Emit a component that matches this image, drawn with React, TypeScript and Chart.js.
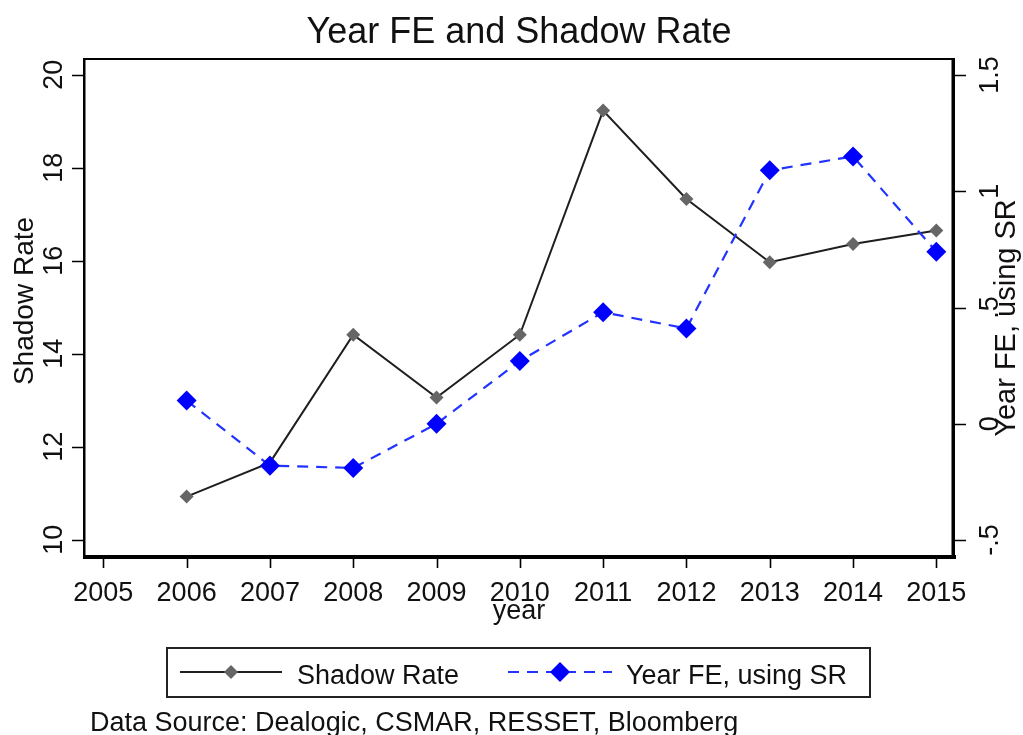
import React, { useEffect, useRef } from "react";
import { Chart, registerables } from "chart.js";

Chart.register(...registerables);

// ---- data ----
const years = [2006, 2007, 2008, 2009, 2010, 2011, 2012, 2013, 2014, 2015];
const shadowRate = [10.93, 11.66, 14.41, 13.06, 14.41, 19.23, 17.33, 15.97, 16.36, 16.65];
const yearFE = [0.1, -0.18, -0.19, 0.0, 0.27, 0.48, 0.41, 1.09, 1.15, 0.74];

const xTicks = [2005, 2006, 2007, 2008, 2009, 2010, 2011, 2012, 2013, 2014, 2015];
const leftTicks = [10, 12, 14, 16, 18, 20];
const leftTickLabels = ["10", "12", "14", "16", "18", "20"];
const rightTicks = [-0.5, 0, 0.5, 1, 1.5];
const rightTickLabels = ["-.5", "0", ".5", "1", "1.5"];

const titleText = "Year FE and Shadow Rate";
const leftTitle = "Shadow Rate";
const rightTitle = "Year FE, using SR";
const xTitle = "year";
const legendLabels = ["Shadow Rate", "Year FE, using SR"];
const noteText = "Data Source: Dealogic, CSMAR, RESSET, Bloomberg";

const FONT = '"Liberation Sans", Arial, "DejaVu Sans", sans-serif';
const TEXT = "#111111";
const SR_LINE = "#1e1e1e";
const SR_MARK = "#666666";
const FE_LINE = "#2233ff";
const FE_MARK = "#0000ff";

const decorPlugin = {
  id: "stataDecor",
  afterDraw(chart: any) {
    const ctx: CanvasRenderingContext2D = chart.ctx;
    const { left, right, top, bottom } = chart.chartArea;
    const xs = chart.scales.x;
    const ys = chart.scales.y;
    const ys1 = chart.scales.y1;
    ctx.save();

    // frame
    ctx.fillStyle = "#000";
    ctx.fillRect(left - 2, top - 1, right - left + 2, 2);
    ctx.fillRect(left - 2, top - 1, 2.5, bottom - top + 1);
    ctx.fillRect(right - 1.5, top - 1, 3.5, bottom - top + 3);
    ctx.fillRect(left - 2, bottom - 2, right - left + 5, 4);

    // tick marks
    ctx.strokeStyle = "#000";
    ctx.lineWidth = 1.6;
    ctx.beginPath();
    for (const v of leftTicks) {
      const y = Math.round(ys.getPixelForValue(v)) + 0.5;
      ctx.moveTo(left - 13, y);
      ctx.lineTo(left - 2, y);
    }
    for (const v of rightTicks) {
      const y = Math.round(ys1.getPixelForValue(v)) + 0.5;
      ctx.moveTo(right + 2, y);
      ctx.lineTo(right + 13, y);
    }
    for (const v of xTicks) {
      const x = Math.round(xs.getPixelForValue(v)) + 0.5;
      ctx.moveTo(x, bottom + 2);
      ctx.lineTo(x, bottom + 11);
    }
    ctx.stroke();

    ctx.fillStyle = TEXT;

    // x tick labels
    ctx.font = `27px ${FONT}`;
    ctx.textAlign = "center";
    ctx.textBaseline = "alphabetic";
    xTicks.forEach((v) => {
      ctx.fillText(String(v), xs.getPixelForValue(v), 601);
    });
    // x title
    ctx.fillText(xTitle, (left + right) / 2, 619);

    // left tick labels (rotated)
    leftTicks.forEach((v, i) => {
      ctx.save();
      ctx.translate(62, ys.getPixelForValue(v));
      ctx.rotate(-Math.PI / 2);
      ctx.fillText(leftTickLabels[i], 0, 0);
      ctx.restore();
    });
    // right tick labels (rotated)
    rightTicks.forEach((v, i) => {
      ctx.save();
      ctx.translate(998, ys1.getPixelForValue(v));
      ctx.rotate(-Math.PI / 2);
      ctx.fillText(rightTickLabels[i], 0, 0);
      ctx.restore();
    });

    // axis titles
    ctx.save();
    ctx.font = `28px ${FONT}`;
    ctx.translate(33, 301);
    ctx.rotate(-Math.PI / 2);
    ctx.fillText(leftTitle, 0, 0);
    ctx.restore();

    ctx.save();
    ctx.font = `29px ${FONT}`;
    ctx.translate(1015, 318);
    ctx.rotate(-Math.PI / 2);
    ctx.fillText(rightTitle, 0, 0);
    ctx.restore();

    // title
    ctx.font = `36px ${FONT}`;
    ctx.fillText(titleText, (left + right) / 2, 43);

    // legend box
    ctx.strokeStyle = "#222";
    ctx.lineWidth = 2;
    ctx.strokeRect(167, 648, 703, 49);
    const ly = 672;
    // item 1
    ctx.strokeStyle = SR_LINE;
    ctx.lineWidth = 2;
    ctx.setLineDash([]);
    ctx.beginPath();
    ctx.moveTo(180, ly);
    ctx.lineTo(282, ly);
    ctx.stroke();
    ctx.fillStyle = SR_MARK;
    ctx.beginPath();
    ctx.moveTo(231 - 7, ly);
    ctx.lineTo(231, ly - 7);
    ctx.lineTo(231 + 7, ly);
    ctx.lineTo(231, ly + 7);
    ctx.closePath();
    ctx.fill();
    // item 2
    ctx.strokeStyle = FE_LINE;
    ctx.lineWidth = 2.2;
    ctx.setLineDash([11, 8]);
    ctx.beginPath();
    ctx.moveTo(508, ly);
    ctx.lineTo(612, ly);
    ctx.stroke();
    ctx.setLineDash([]);
    ctx.fillStyle = FE_MARK;
    ctx.beginPath();
    ctx.moveTo(560 - 10, ly);
    ctx.lineTo(560, ly - 10);
    ctx.lineTo(560 + 10, ly);
    ctx.lineTo(560, ly + 10);
    ctx.closePath();
    ctx.fill();

    ctx.fillStyle = TEXT;
    ctx.font = `27px ${FONT}`;
    ctx.textAlign = "left";
    ctx.fillText(legendLabels[0], 297, 684);
    ctx.fillText(legendLabels[1], 626, 684);

    // note
    ctx.fillText(noteText, 90, 731);

    ctx.restore();
  },
};

export default function App() {
  const canvasRef = useRef<HTMLCanvasElement | null>(null);

  useEffect(() => {
    const canvas = canvasRef.current;
    if (!canvas) return;
    const chart = new Chart(canvas, {
      type: "line",
      data: {
        datasets: [
          {
            label: legendLabels[0],
            data: years.map((y, i) => ({ x: y, y: shadowRate[i] })),
            yAxisID: "y",
            borderColor: SR_LINE,
            borderWidth: 2,
            pointStyle: "rectRot",
            pointRadius: 7,
            pointBackgroundColor: SR_MARK,
            pointBorderColor: SR_MARK,
            pointBorderWidth: 0,
            tension: 0,
            order: 2,
          },
          {
            label: legendLabels[1],
            data: years.map((y, i) => ({ x: y, y: yearFE[i] })),
            yAxisID: "y1",
            borderColor: FE_LINE,
            borderWidth: 2.2,
            borderDash: [11, 8],
            pointStyle: "rectRot",
            pointRadius: 10,
            pointBackgroundColor: FE_MARK,
            pointBorderColor: FE_MARK,
            pointBorderWidth: 0,
            tension: 0,
            order: 1,
          },
        ],
      },
      options: {
        responsive: false,
        animation: false,
        devicePixelRatio: 1,
        layout: { padding: { left: 85, right: 70, top: 59, bottom: 178 } },
        plugins: {
          legend: { display: false },
          title: { display: false },
          tooltip: { enabled: false },
        },
        scales: {
          x: { type: "linear", display: false, min: 2004.78, max: 2015.2 },
          y: { type: "linear", display: false, min: 9.63, max: 20.34 },
          y1: { type: "linear", display: false, min: -0.573, max: 1.569 },
        },
      },
      plugins: [decorPlugin],
    });
    return () => chart.destroy();
  }, []);

  return (
    <div style={{ position: "absolute", left: 0, top: 0, width: 1023, height: 735, background: "#fff" }}>
      <canvas ref={canvasRef} width={1023} height={735} style={{ display: "block" }} />
    </div>
  );
}
